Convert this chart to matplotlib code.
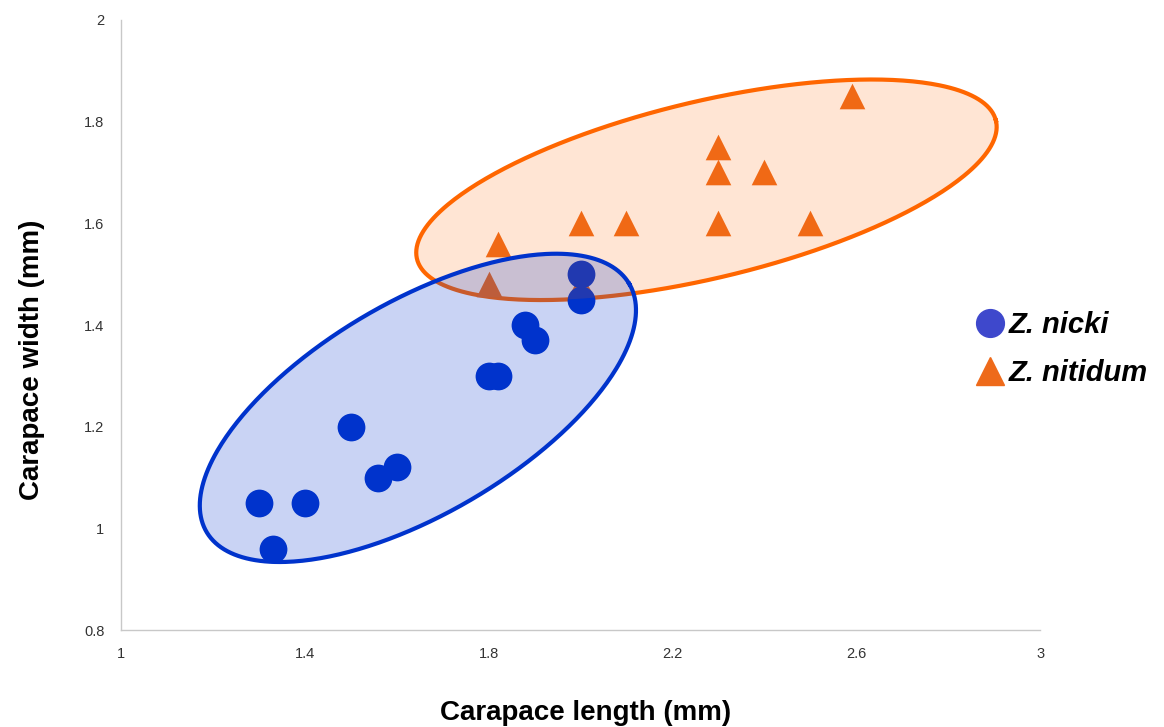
import numpy as np
import matplotlib
matplotlib.use("Agg")
import matplotlib.pyplot as plt
from matplotlib.lines import Line2D

plt.rcParams['font.family'] = ['Liberation Sans', 'DejaVu Sans']

# Z. nicki (circles)
nicki_length = [1.30, 1.33, 1.40, 1.50, 1.56, 1.60, 1.80, 1.82, 1.88, 1.90, 2.00, 2.00]
nicki_width = [1.05, 0.96, 1.05, 1.20, 1.10, 1.12, 1.30, 1.30, 1.40, 1.37, 1.50, 1.45]

# Z. nitidum (triangles)
nitidum_length = [1.80, 1.82, 2.00, 2.00, 2.10, 2.30, 2.30, 2.30, 2.40, 2.50, 2.59]
nitidum_width = [1.48, 1.56, 1.48, 1.60, 1.60, 1.60, 1.70, 1.75, 1.70, 1.60, 1.85]

x_ticks = [1, 1.4, 1.8, 2.2, 2.6, 3]
x_tick_labels = ["1", "1.4", "1.8", "2.2", "2.6", "3"]
y_ticks = [0.8, 1.0, 1.2, 1.4, 1.6, 1.8, 2.0]
y_tick_labels = ["0.8", "1", "1.2", "1.4", "1.6", "1.8", "2"]

# hand-drawn group ellipses: centre, major and minor half-axis vectors (data units)
nicki_ell = {"c": (1.646, 1.237), "a": (0.460, 0.244), "b": (-0.117, 0.180)}
nitidum_ell = {"c": (2.274, 1.666), "a": (0.630, 0.136), "b": (-0.045, 0.169)}


def ellipse_xy(e, n=400):
    t = np.linspace(0, 2 * np.pi, n)
    xs = e["c"][0] + e["a"][0] * np.cos(t) + e["b"][0] * np.sin(t)
    ys = e["c"][1] + e["a"][1] * np.cos(t) + e["b"][1] * np.sin(t)
    return xs, ys


fig = plt.figure(figsize=(11.64, 7.27), dpi=100)
ax = fig.add_axes([0.104, 0.1334, 0.7895, 0.8391])

blue = "#0033CC"
orange = "#EE6A1A"

ax.scatter(nitidum_length, nitidum_width, marker="^", s=340, color=orange, lw=0, zorder=3)
ax.scatter(nicki_length, nicki_width, marker="o", s=400, color=blue, lw=0, zorder=3)

xs, ys = ellipse_xy(nitidum_ell)
ax.plot(xs, ys, color="#FF6600", lw=3, zorder=2)
ax.fill(xs, ys, color="#FF6600", alpha=0.17, lw=0, zorder=4)

xs, ys = ellipse_xy(nicki_ell)
ax.fill(xs, ys, color=blue, alpha=0.21, lw=0, zorder=5)
ax.plot(xs, ys, color=blue, lw=3, zorder=6)

ax.set_xlim(1, 3)
ax.set_ylim(0.8, 2)
ax.set_xticks(x_ticks)
ax.set_xticklabels(x_tick_labels)
ax.set_yticks(y_ticks)
ax.set_yticklabels(y_tick_labels)
ax.tick_params(length=0, labelsize=10.5, labelcolor="#333333")
ax.tick_params(axis="x", pad=12)
ax.tick_params(axis="y", pad=12)

for s in ["top", "right"]:
    ax.spines[s].set_visible(False)
for s in ["left", "bottom"]:
    ax.spines[s].set_color("#C8C8C8")
    ax.spines[s].set_linewidth(1)

ax.set_xlabel("Carapace length (mm)", fontsize=20, fontweight="bold")
ax.set_ylabel("Carapace width (mm)", fontsize=20, fontweight="bold")
ax.xaxis.set_label_coords(0.505, -0.114)
ax.yaxis.set_label_coords(-0.083, 0.443)

handles = [
    Line2D([], [], marker="o", ls="", color="#3E48CC", markersize=20),
    Line2D([], [], marker="^", ls="", color=orange, markersize=20),
]
fig.legend(handles, ["Z. nicki", "Z. nitidum"], loc="center left",
           bbox_to_anchor=(0.813, 0.52), frameon=False, handletextpad=0.05,
           labelspacing=0.7, handlelength=1.2,
           prop={"size": 21, "weight": "bold", "style": "italic"})

fig.savefig("out.png", dpi=100)
